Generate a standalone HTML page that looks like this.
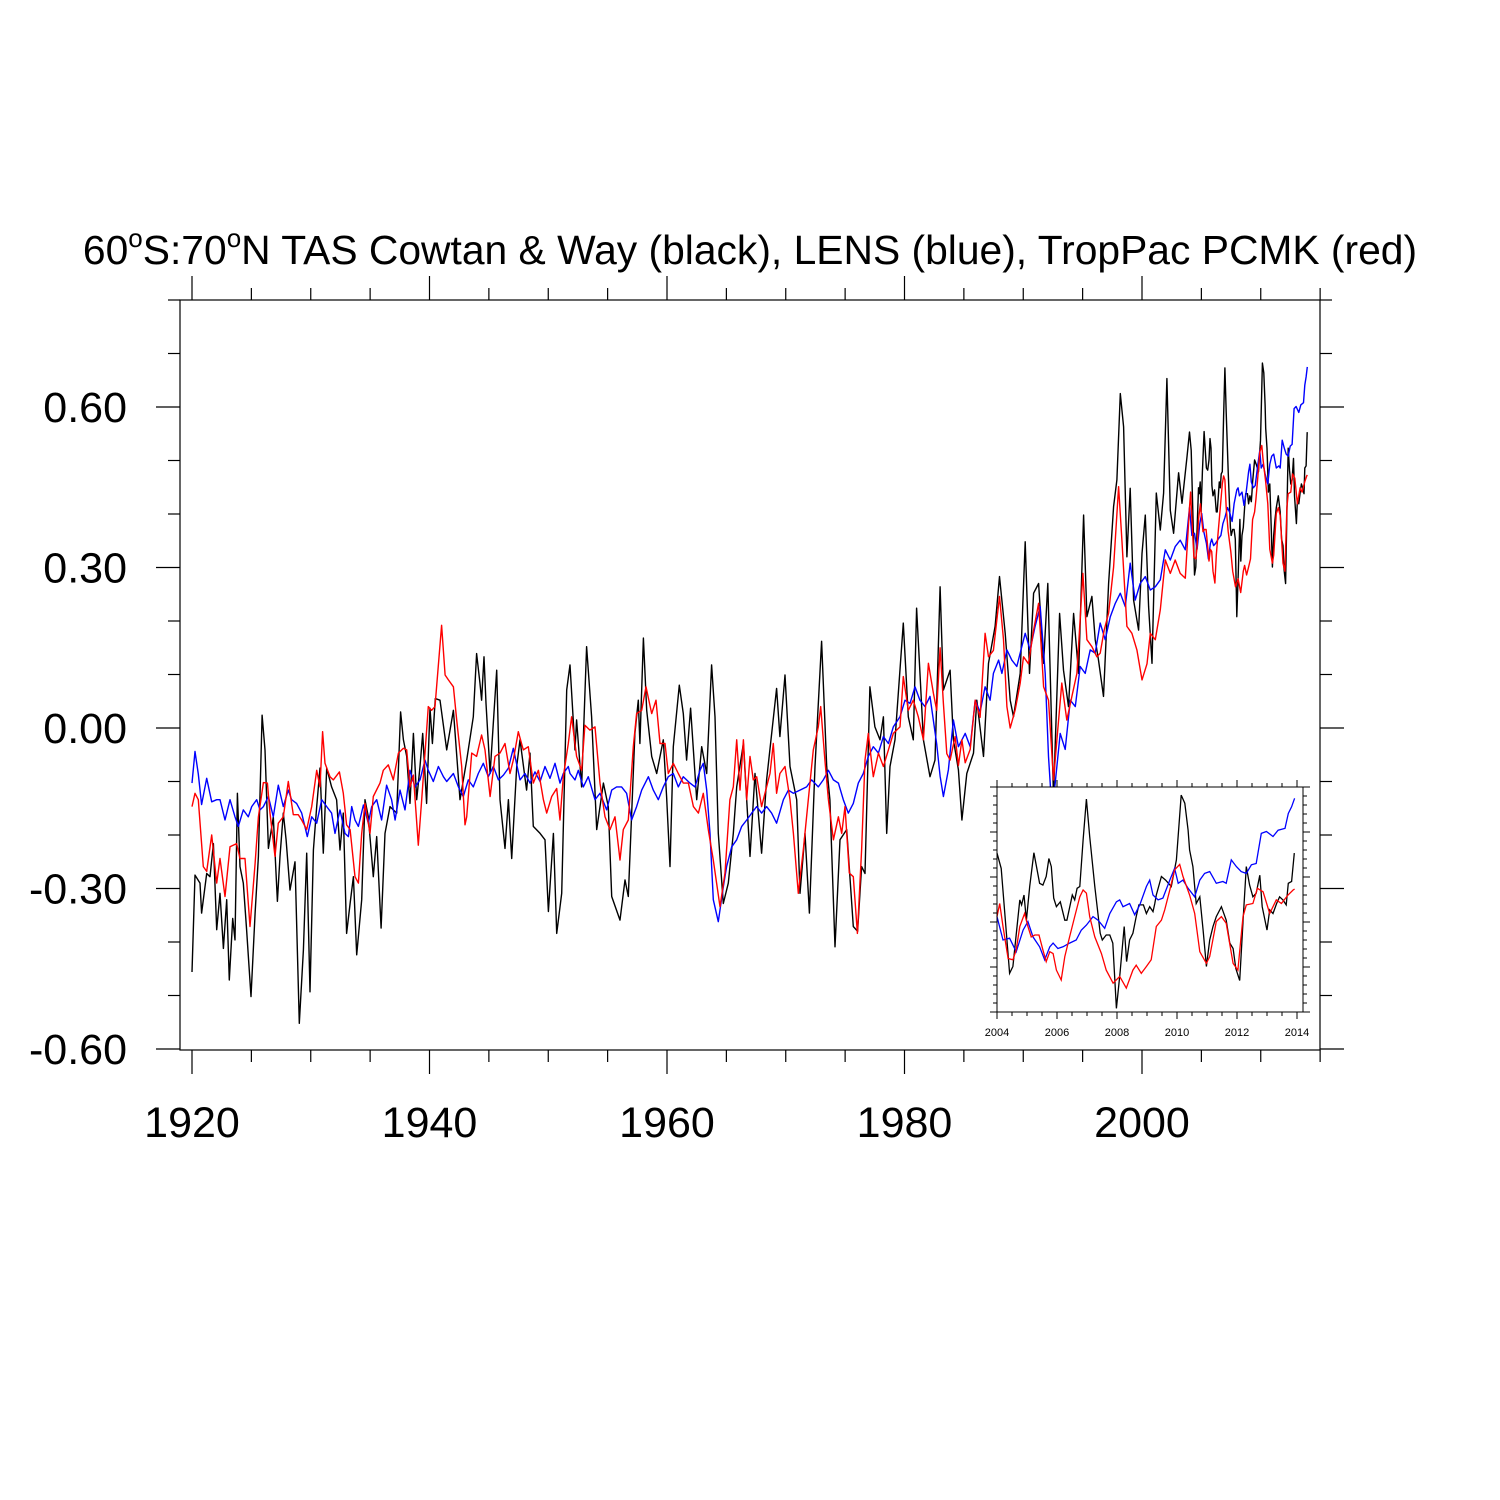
<!DOCTYPE html>
<html><head><meta charset="utf-8">
<style>
html,body{margin:0;padding:0;background:#fff;}
svg{display:block;font-family:"Liberation Sans",Arial,sans-serif;}
</style></head>
<body>
<svg id="chart" width="1500" height="1500" viewBox="0 0 1500 1500" xmlns="http://www.w3.org/2000/svg">
<rect width="1500" height="1500" fill="#fff"/>
<text x="750" y="264" font-size="40.8" text-anchor="middle">60<tspan font-size="26" dy="-17">o</tspan><tspan dy="17">S:70</tspan><tspan font-size="26" dy="-17">o</tspan><tspan dy="17">N TAS Cowtan &amp; Way (black), LENS (blue), TropPac PCMK (red)</tspan></text>
<g id="axes"></g>
<g id="series"></g>
<g id="inset"></g>
</svg>
<script>
const blackYears=[1920.00,1920.25,1920.67,1920.81,1921.24,1921.52,1921.80,1922.08,1922.36,1922.64,1922.92,1923.14,1923.43,1923.62,1923.82,1924.04,1924.32,1924.60,1924.97,1925.31,1925.59,1925.90,1926.15,1926.43,1926.85,1927.19,1927.41,1927.69,1927.92,1928.25,1928.67,1929.04,1929.38,1929.66,1929.94,1930.22,1930.50,1930.78,1931.06,1931.34,1931.76,1932.18,1932.46,1932.74,1933.02,1933.31,1933.59,1933.87,1934.29,1934.57,1934.85,1935.27,1935.55,1935.92,1936.25,1936.67,1937.24,1937.57,1937.80,1938.08,1938.36,1938.64,1938.92,1939.20,1939.43,1939.76,1940.04,1940.24,1940.49,1940.88,1941.45,1942.01,1942.57,1943.13,1943.69,1943.97,1944.25,1944.39,1944.59,1944.76,1945.10,1945.66,1945.94,1946.36,1946.64,1946.92,1947.34,1947.62,1948.18,1948.46,1948.74,1949.31,1949.73,1950.01,1950.43,1950.71,1951.13,1951.55,1951.83,1952.25,1952.39,1952.81,1953.23,1953.65,1954.08,1954.64,1955.06,1955.34,1956.04,1956.46,1956.74,1957.30,1957.58,1957.72,1958.01,1958.29,1958.71,1959.13,1959.69,1959.97,1960.25,1960.53,1961.04,1961.37,1961.65,1961.99,1962.50,1962.92,1963.34,1963.76,1964.04,1964.32,1964.74,1965.16,1965.58,1965.87,1966.43,1966.99,1967.41,1967.97,1968.39,1969.23,1969.51,1969.94,1970.36,1970.92,1971.20,1971.62,1971.99,1972.46,1973.02,1973.45,1973.72,1974.15,1974.57,1975.13,1975.69,1976.05,1976.39,1976.67,1977.09,1977.51,1977.94,1978.22,1978.50,1978.78,1979.20,1979.90,1980.32,1980.74,1981.02,1981.59,1982.15,1982.57,1983.00,1983.28,1983.84,1984.12,1984.54,1984.83,1985.25,1985.81,1986.09,1986.65,1987.07,1987.63,1988.00,1988.48,1988.90,1989.18,1989.74,1990.16,1990.53,1990.87,1991.29,1991.71,1992.07,1992.55,1993.06,1993.39,1993.81,1994.24,1994.66,1995.08,1995.36,1995.78,1996.06,1996.34,1996.76,1997.19,1997.61,1997.89,1998.17,1998.45,1998.73,1999.01,1999.29,1999.71,2000.00,2000.28,2000.56,2000.84,2001.20,2001.54,2001.82,2002.10,2002.38,2002.66,2003.08,2003.37,2003.79,2004.00,2004.14,2004.42,2004.53,2004.76,2004.82,2004.90,2004.98,2005.09,2005.23,2005.42,2005.53,2005.64,2005.73,2005.81,2005.89,2005.98,2006.11,2006.26,2006.33,2006.51,2006.59,2006.67,2006.76,2006.87,2006.98,2007.09,2007.26,2007.44,2007.51,2007.64,2007.76,2007.86,2007.98,2008.10,2008.24,2008.32,2008.42,2008.53,2008.64,2008.73,2008.88,2008.98,2009.09,2009.20,2009.26,2009.31,2009.48,2009.62,2009.81,2009.98,2010.14,2010.26,2010.37,2010.42,2010.53,2010.64,2010.76,2010.87,2010.98,2011.09,2011.20,2011.31,2011.48,2011.64,2011.76,2011.87,2011.96,2012.09,2012.21,2012.31,2012.42,2012.53,2012.64,2012.76,2012.84,2013.00,2013.09,2013.20,2013.32,2013.42,2013.53,2013.64,2013.71,2013.82,2013.91];
const blackValues=[-0.456,-0.275,-0.29,-0.346,-0.272,-0.278,-0.216,-0.377,-0.309,-0.412,-0.321,-0.471,-0.356,-0.396,-0.122,-0.259,-0.29,-0.377,-0.502,-0.346,-0.24,0.024,-0.041,-0.225,-0.166,-0.324,-0.24,-0.159,-0.209,-0.303,-0.25,-0.552,-0.415,-0.234,-0.493,-0.228,-0.147,-0.075,-0.234,-0.075,-0.11,-0.134,-0.228,-0.159,-0.384,-0.328,-0.278,-0.424,-0.321,-0.134,-0.166,-0.278,-0.203,-0.374,-0.197,-0.147,-0.159,0.03,-0.022,-0.053,-0.141,-0.01,-0.134,-0.072,-0.01,-0.141,0.037,-0.029,0.055,0.052,-0.041,0.033,-0.134,-0.06,0.021,0.139,0.083,0.052,0.133,0.046,-0.085,0.108,-0.134,-0.225,-0.134,-0.244,-0.072,-0.022,-0.116,-0.047,-0.184,-0.197,-0.209,-0.343,-0.197,-0.384,-0.309,0.071,0.118,-0.041,0.015,-0.11,0.152,0.021,-0.19,-0.103,-0.147,-0.315,-0.359,-0.284,-0.315,-0.01,0.052,-0.029,0.168,0.033,-0.053,-0.085,-0.022,-0.128,-0.259,-0.035,0.08,0.027,-0.06,0.037,-0.134,-0.035,-0.085,0.118,0.021,-0.197,-0.328,-0.29,-0.197,-0.11,-0.029,-0.24,-0.085,-0.234,-0.097,0.074,-0.016,0.099,-0.072,-0.134,-0.309,-0.197,-0.346,-0.072,0.162,-0.072,-0.134,-0.409,-0.209,-0.19,-0.371,-0.38,-0.259,-0.272,0.077,0.002,-0.022,0.021,-0.197,-0.072,-0.022,0.196,0.021,-0.022,0.224,-0.022,-0.091,-0.06,0.264,0.071,0.108,-0.022,-0.078,-0.172,-0.085,-0.047,0.052,-0.053,0.121,0.19,0.283,0.177,0.052,0.021,0.102,0.348,0.102,0.252,0.27,0.121,0.27,-0.128,0.214,0.108,0.04,0.214,0.102,0.398,0.208,0.246,0.165,0.127,0.059,0.27,0.414,0.464,0.625,0.563,0.32,0.448,0.239,0.183,0.326,0.398,0.227,0.121,0.439,0.37,0.439,0.653,0.407,0.364,0.477,0.42,0.507,0.553,0.519,0.286,0.301,0.449,0.438,0.46,0.404,0.479,0.554,0.486,0.482,0.501,0.541,0.523,0.453,0.434,0.445,0.404,0.404,0.46,0.449,0.475,0.479,0.582,0.673,0.59,0.479,0.375,0.36,0.371,0.371,0.353,0.208,0.286,0.39,0.312,0.36,0.375,0.412,0.438,0.438,0.419,0.434,0.423,0.441,0.46,0.501,0.493,0.479,0.538,0.682,0.664,0.604,0.56,0.523,0.441,0.456,0.382,0.301,0.36,0.39,0.412,0.434,0.404,0.353,0.341,0.297,0.27,0.412,0.523,0.482,0.456,0.464,0.504,0.434,0.382,0.427,0.419,0.441,0.456,0.449,0.438,0.486,0.49,0.553];

const blueYears=[1920.00,1920.25,1920.53,1920.81,1921.24,1921.66,1922.08,1922.36,1922.78,1923.20,1923.62,1923.90,1924.32,1924.74,1925.03,1925.45,1925.73,1926.01,1926.43,1926.85,1927.27,1927.69,1928.11,1928.39,1928.81,1929.24,1929.71,1930.08,1930.50,1930.92,1931.34,1931.76,1932.04,1932.46,1932.88,1933.17,1933.45,1933.73,1934.01,1934.43,1934.85,1935.13,1935.55,1935.97,1936.39,1936.81,1937.10,1937.52,1937.94,1938.36,1938.78,1939.20,1939.62,1939.90,1940.32,1940.75,1941.17,1941.45,1942.01,1942.43,1942.85,1943.27,1943.69,1944.11,1944.53,1944.95,1945.38,1945.80,1946.22,1946.64,1947.06,1947.62,1948.04,1948.46,1948.88,1949.31,1949.73,1950.15,1950.57,1950.99,1951.27,1951.69,1951.83,1952.25,1952.53,1952.95,1953.37,1953.94,1954.36,1954.92,1955.34,1955.76,1956.18,1956.60,1957.02,1957.44,1957.87,1958.43,1958.85,1959.27,1959.69,1960.11,1960.53,1960.95,1961.37,1961.94,1962.36,1962.78,1963.06,1963.34,1963.62,1963.90,1964.32,1964.74,1965.02,1965.45,1965.87,1966.29,1966.71,1967.13,1967.55,1967.97,1968.39,1968.81,1969.23,1969.80,1970.22,1970.64,1971.20,1971.76,1972.18,1972.74,1973.16,1973.59,1974.01,1974.43,1974.85,1975.27,1975.69,1976.11,1976.53,1976.95,1977.37,1977.80,1978.22,1978.64,1979.06,1979.62,1980.04,1980.46,1980.88,1981.30,1981.73,1982.15,1982.71,1983.00,1983.28,1983.70,1984.12,1984.54,1985.11,1985.53,1985.95,1986.37,1986.79,1987.21,1987.49,1987.92,1988.20,1988.62,1989.04,1989.46,1989.88,1990.16,1990.58,1991.00,1991.43,1991.85,1992.13,1992.41,1992.69,1993.11,1993.53,1993.96,1994.38,1994.80,1995.22,1995.64,1996.06,1996.48,1996.90,1997.33,1997.75,1998.17,1998.59,1999.01,1999.43,1999.85,2000.28,2000.70,2001.12,2001.54,2001.96,2002.38,2002.80,2003.22,2003.65,2004.00,2004.20,2004.42,2004.64,2004.87,2005.03,2005.20,2005.42,2005.59,2005.76,2005.87,2006.03,2006.20,2006.42,2006.64,2006.81,2006.98,2007.20,2007.37,2007.59,2007.76,2007.98,2008.09,2008.20,2008.42,2008.59,2008.76,2008.98,2009.09,2009.20,2009.37,2009.53,2009.76,2009.92,2010.04,2010.20,2010.37,2010.59,2010.76,2010.92,2011.09,2011.31,2011.53,2011.64,2011.81,2011.98,2012.14,2012.31,2012.48,2012.64,2012.81,2012.98,2013.20,2013.37,2013.60,2013.71,2013.82,2013.92];
const blueValues=[-0.103,-0.044,-0.086,-0.143,-0.094,-0.138,-0.134,-0.134,-0.172,-0.134,-0.166,-0.184,-0.153,-0.166,-0.147,-0.134,-0.153,-0.147,-0.128,-0.166,-0.107,-0.147,-0.116,-0.134,-0.141,-0.159,-0.203,-0.166,-0.178,-0.134,-0.147,-0.159,-0.197,-0.153,-0.197,-0.203,-0.147,-0.172,-0.184,-0.144,-0.178,-0.147,-0.134,-0.172,-0.107,-0.134,-0.172,-0.116,-0.153,-0.079,-0.11,-0.097,-0.06,-0.079,-0.1,-0.072,-0.091,-0.1,-0.085,-0.11,-0.128,-0.097,-0.11,-0.085,-0.066,-0.091,-0.072,-0.097,-0.088,-0.075,-0.038,-0.097,-0.085,-0.103,-0.082,-0.1,-0.072,-0.094,-0.066,-0.103,-0.085,-0.072,-0.085,-0.097,-0.079,-0.11,-0.091,-0.134,-0.122,-0.153,-0.116,-0.11,-0.11,-0.122,-0.172,-0.147,-0.116,-0.091,-0.116,-0.134,-0.11,-0.091,-0.085,-0.11,-0.091,-0.103,-0.11,-0.079,-0.066,-0.116,-0.197,-0.321,-0.362,-0.297,-0.259,-0.222,-0.209,-0.184,-0.172,-0.159,-0.147,-0.159,-0.147,-0.159,-0.178,-0.134,-0.116,-0.122,-0.116,-0.11,-0.097,-0.11,-0.097,-0.079,-0.097,-0.103,-0.134,-0.159,-0.141,-0.103,-0.085,-0.053,-0.035,-0.047,-0.016,-0.029,0.002,0.021,0.052,0.046,0.077,0.052,0.04,0.059,-0.03,-0.09,-0.128,-0.078,0.015,-0.035,-0.01,-0.035,0.052,0.03,0.077,0.052,0.102,0.127,0.102,0.146,0.127,0.115,0.152,0.177,0.146,0.19,0.227,0.102,-0.053,-0.153,-0.103,-0.01,-0.04,0.052,0.04,0.115,0.102,0.146,0.14,0.196,0.165,0.208,0.233,0.252,0.227,0.308,0.239,0.27,0.283,0.258,0.264,0.277,0.333,0.314,0.339,0.351,0.333,0.412,0.36,0.364,0.334,0.382,0.401,0.367,0.345,0.316,0.345,0.353,0.341,0.345,0.353,0.36,0.382,0.393,0.412,0.404,0.386,0.419,0.445,0.449,0.434,0.441,0.416,0.438,0.479,0.493,0.46,0.449,0.453,0.493,0.519,0.486,0.493,0.475,0.456,0.493,0.508,0.512,0.486,0.49,0.486,0.538,0.523,0.512,0.508,0.527,0.53,0.597,0.601,0.59,0.604,0.608,0.641,0.656,0.675];

const redYears=[1920.00,1920.25,1920.53,1920.95,1921.24,1921.66,1922.08,1922.36,1922.78,1923.20,1923.76,1924.04,1924.46,1924.88,1925.31,1925.59,1926.01,1926.35,1926.57,1926.99,1927.27,1927.69,1928.11,1928.53,1928.95,1929.24,1929.66,1930.08,1930.50,1930.78,1931.00,1931.20,1931.62,1931.90,1932.41,1932.74,1933.02,1933.31,1933.73,1934.01,1934.29,1934.57,1934.99,1935.27,1935.83,1936.11,1936.53,1936.95,1937.38,1937.80,1938.08,1938.36,1938.64,1939.06,1939.34,1939.90,1940.18,1940.46,1941.02,1941.31,1941.59,1942.01,1942.29,1942.71,1942.99,1943.13,1943.55,1943.97,1944.39,1944.67,1945.10,1945.52,1945.94,1946.36,1946.78,1947.06,1947.48,1947.90,1948.32,1948.74,1949.17,1949.59,1949.87,1950.29,1950.71,1950.99,1951.27,1951.69,1951.97,1952.39,1952.81,1953.09,1953.51,1953.94,1954.36,1954.78,1955.20,1955.62,1956.04,1956.32,1956.74,1957.16,1957.44,1957.87,1958.23,1958.71,1959.07,1959.41,1959.83,1960.11,1960.53,1960.95,1961.37,1961.80,1962.22,1962.64,1963.06,1963.48,1963.90,1964.46,1964.88,1965.30,1965.58,1965.87,1966.15,1966.43,1966.71,1966.99,1967.27,1967.55,1967.97,1968.39,1968.67,1968.95,1969.23,1969.51,1969.94,1970.36,1970.64,1971.06,1971.48,1971.90,1972.32,1972.74,1972.94,1973.30,1973.59,1974.01,1974.43,1974.71,1974.99,1975.35,1975.69,1976.03,1976.39,1976.67,1976.95,1977.37,1977.80,1978.22,1978.64,1979.06,1979.62,1979.90,1980.32,1980.74,1981.16,1981.59,1982.01,1982.43,1982.71,1983.00,1983.28,1983.56,1983.84,1984.26,1984.54,1984.83,1985.11,1985.53,1985.95,1986.37,1986.79,1987.07,1987.49,1988.00,1988.34,1988.62,1988.90,1989.32,1989.74,1990.02,1990.44,1990.87,1991.29,1991.71,1992.13,1992.55,1992.83,1993.25,1993.67,1994.10,1994.52,1995.02,1995.36,1995.78,1996.20,1996.48,1996.82,1997.19,1997.61,1998.03,1998.31,1998.73,1999.15,1999.57,2000.00,2000.42,2000.70,2001.12,2001.54,2001.96,2002.38,2002.80,2003.22,2003.65,2004.00,2004.09,2004.20,2004.37,2004.53,2004.64,2004.76,2004.92,2005.03,2005.14,2005.26,2005.40,2005.53,2005.64,2005.76,2005.87,2005.98,2006.14,2006.26,2006.42,2006.59,2006.76,2006.87,2006.98,2007.09,2007.26,2007.48,2007.64,2007.87,2008.09,2008.31,2008.53,2008.64,2008.81,2008.98,2009.14,2009.31,2009.48,2009.59,2009.76,2009.92,2010.09,2010.20,2010.42,2010.59,2010.76,2010.98,2011.09,2011.31,2011.48,2011.64,2011.87,2012.03,2012.20,2012.31,2012.53,2012.68,2012.87,2013.09,2013.31,2013.48,2013.70,2013.87,2013.92];
const redValues=[-0.147,-0.122,-0.134,-0.259,-0.268,-0.2,-0.29,-0.244,-0.315,-0.222,-0.216,-0.244,-0.244,-0.371,-0.253,-0.166,-0.102,-0.103,-0.159,-0.24,-0.178,-0.166,-0.1,-0.162,-0.162,-0.172,-0.19,-0.147,-0.079,-0.11,-0.007,-0.066,-0.091,-0.097,-0.082,-0.122,-0.181,-0.19,-0.278,-0.29,-0.197,-0.141,-0.197,-0.128,-0.103,-0.079,-0.069,-0.097,-0.047,-0.038,-0.041,-0.11,-0.088,-0.219,-0.134,0.04,0.033,0.04,0.192,0.099,0.09,0.077,0.015,-0.072,-0.181,-0.166,-0.047,-0.053,-0.013,-0.041,-0.128,-0.053,-0.047,-0.029,-0.085,-0.06,-0.007,-0.041,-0.035,-0.103,-0.079,-0.134,-0.159,-0.128,-0.113,-0.172,-0.091,-0.029,0.021,-0.053,-0.079,0.005,-0.004,0.002,-0.103,-0.166,-0.19,-0.166,-0.247,-0.19,-0.172,-0.035,0.027,0.033,0.077,0.027,0.052,-0.029,-0.029,-0.085,-0.066,-0.085,-0.103,-0.103,-0.147,-0.159,-0.122,-0.19,-0.247,-0.334,-0.271,-0.134,-0.11,-0.022,-0.116,-0.022,-0.134,-0.053,-0.097,-0.091,-0.147,-0.11,-0.085,-0.029,-0.122,-0.085,-0.072,-0.134,-0.197,-0.309,-0.228,-0.134,-0.041,0.002,0.04,-0.06,-0.134,-0.209,-0.166,-0.197,-0.147,-0.271,-0.278,-0.384,-0.228,-0.06,-0.01,-0.091,-0.047,-0.072,-0.041,-0.01,0.002,0.096,0.033,0.052,0.021,-0.022,0.121,0.065,0.033,0.15,0.046,-0.048,-0.06,-0.016,-0.07,-0.022,-0.065,-0.04,0.052,0.02,0.177,0.133,0.145,0.246,0.165,0.04,0.0,0.034,0.084,0.133,0.12,0.183,0.233,0.077,0.052,-0.097,-0.022,0.084,0.015,0.059,0.102,0.289,0.165,0.152,0.133,0.14,0.183,0.215,0.301,0.451,0.351,0.19,0.177,0.146,0.09,0.12,0.177,0.165,0.221,0.314,0.289,0.314,0.289,0.28,0.412,0.441,0.39,0.319,0.316,0.338,0.39,0.419,0.39,0.367,0.371,0.371,0.338,0.312,0.334,0.33,0.293,0.271,0.323,0.367,0.412,0.456,0.471,0.464,0.412,0.367,0.33,0.293,0.264,0.279,0.253,0.293,0.304,0.286,0.301,0.316,0.39,0.404,0.427,0.471,0.516,0.528,0.501,0.46,0.419,0.334,0.308,0.323,0.401,0.412,0.397,0.308,0.293,0.412,0.438,0.441,0.475,0.467,0.419,0.449,0.441,0.46,0.471,0.473];

const xTickLabels=["1920","1940","1960","1980","2000"];
const yTickLabels=["-0.60","-0.30","0.00","0.30","0.60"];
const insetXTickLabels=["2004","2006","2008","2010","2012","2014"];

const NS="http://www.w3.org/2000/svg";
function mk(tag,attrs,parent){const e=document.createElementNS(NS,tag);for(const k in attrs)e.setAttribute(k,attrs[k]);parent.appendChild(e);return e;}
const X0=180,X1=1320,Y0=300,Y1=1050;
const xMain=y=>192+(y-1920)*11.875;
const yMain=v=>728-v*535;
const axes=document.getElementById('axes');
const frame=mk('rect',{x:X0,y:Y0,width:X1-X0,height:Y1-Y0,fill:'none',stroke:'#000','stroke-width':1.2},axes);


for(let yr=1920;yr<=2015;yr+=5){
  const x=xMain(yr),major=(yr%20===0),L=major?24:12;
  const t1=mk('line',{x1:x,x2:x,y1:Y1,y2:Y1+L,stroke:'#000','stroke-width':1.2},axes);
  
  
  const t2=mk('line',{x1:x,x2:x,y1:Y0,y2:Y0-L,stroke:'#000','stroke-width':1.2},axes);
  
  
}
xTickLabels.forEach(s=>{
  const t=mk('text',{x:xMain(+s),y:1137,'font-size':43,'text-anchor':'middle'},axes);
  t.textContent=s;
  
  
});
for(let k=-6;k<=8;k++){
  const v=k/10,y=yMain(v),major=(k%3===0),L=major?24:12;
  const a=mk('line',{x1:X0-L,x2:X0,y1:y,y2:y,stroke:'#000','stroke-width':1.2},axes);
  
  
  const b=mk('line',{x1:X1,x2:X1+L,y1:y,y2:y,stroke:'#000','stroke-width':1.2},axes);
  
  
}
yTickLabels.forEach(s=>{
  const t=mk('text',{x:127,y:yMain(+s)+15,'font-size':43,'text-anchor':'end'},axes);
  t.textContent=s;
  
  
});
function pathFor(ys,vs,fx,fy,minYear){
  let d='';
  for(let i=0;i<ys.length;i++){
    if(minYear!==undefined && ys[i]<minYear) continue;
    d+=(d?'L':'M')+fx(ys[i]).toFixed(1)+','+fy(vs[i]).toFixed(1);
  }
  return d;
}
const sg=document.getElementById('series');
const pb=mk('path',{d:pathFor(blackYears,blackValues,xMain,yMain),fill:'none',stroke:'#000','stroke-width':1.4,'stroke-linejoin':'round'},sg);


const pl=mk('path',{d:pathFor(blueYears,blueValues,xMain,yMain),fill:'none',stroke:'#0000ff','stroke-width':1.4,'stroke-linejoin':'round'},sg);


const pr=mk('path',{d:pathFor(redYears,redValues,xMain,yMain),fill:'none',stroke:'#ff0000','stroke-width':1.4,'stroke-linejoin':'round'},sg);


const IX0=997,IX1=1303,IY0=787,IY1=1012;
const xIn=y=>IX0+(y-2004)*30;
const yIn=v=>IY0+(0.70-v)*450;
const ig=document.getElementById('inset');
const ibg=mk('rect',{x:IX0,y:IY0,width:IX1-IX0,height:IY1-IY0,fill:'#fff',stroke:'none'},ig);


const ib=mk('path',{d:pathFor(blackYears,blackValues,xIn,yIn,2004),fill:'none',stroke:'#000','stroke-width':1.3},ig);


const il=mk('path',{d:pathFor(blueYears,blueValues,xIn,yIn,2004),fill:'none',stroke:'#0000ff','stroke-width':1.3},ig);


const ir=mk('path',{d:pathFor(redYears,redValues,xIn,yIn,2004),fill:'none',stroke:'#ff0000','stroke-width':1.3},ig);


const iframe=mk('rect',{x:IX0,y:IY0,width:IX1-IX0,height:IY1-IY0,fill:'none',stroke:'#000','stroke-width':1},ig);


for(let yr=2004;yr<=2014.01;yr+=0.5){
  const x=xIn(yr),major=(Math.abs(yr%2)<0.01),L=major?7:4;
  const a=mk('line',{x1:x,x2:x,y1:IY1,y2:IY1+L,stroke:'#000','stroke-width':1},ig);
  
  
  const b=mk('line',{x1:x,x2:x,y1:IY0,y2:IY0-L,stroke:'#000','stroke-width':1},ig);
  
  
}
insetXTickLabels.forEach(s=>{
  const t=mk('text',{x:xIn(+s),y:1036,'font-size':11,'text-anchor':'middle'},ig);
  t.textContent=s;
  
  
});
for(let k=10;k<=35;k++){
  const v=k/50,y=yIn(v),major=(k%5===0),L=major?7:4;
  const a=mk('line',{x1:IX0-L,x2:IX0,y1:y,y2:y,stroke:'#000','stroke-width':1},ig);
  
  
  const b=mk('line',{x1:IX1,x2:IX1+L,y1:y,y2:y,stroke:'#000','stroke-width':1},ig);
  
  
}
</script>
</body></html>
